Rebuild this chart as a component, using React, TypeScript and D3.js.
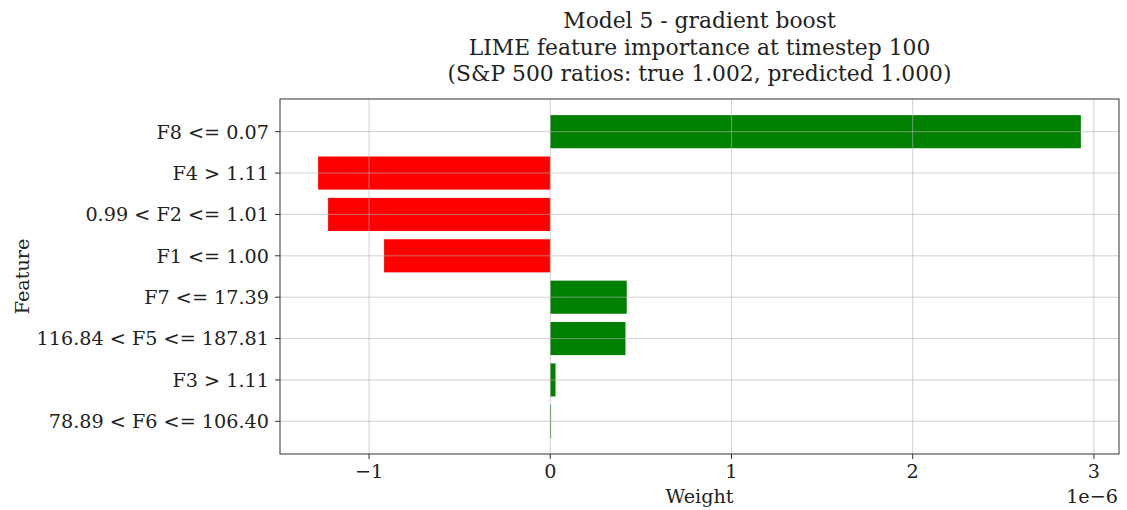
import React from "react";
import * as d3 from "d3";

const features = [
  "F8 <= 0.07",
  "F4 > 1.11",
  "0.99 < F2 <= 1.01",
  "F1 <= 1.00",
  "F7 <= 17.39",
  "116.84 < F5 <= 187.81",
  "F3 > 1.11",
  "78.89 < F6 <= 106.40",
];
const weights = [2.928, -1.281, -1.226, -0.917, 0.422, 0.415, 0.029, 0.002];
const xTicks = [-1, 0, 1, 2, 3];
const titleLines = [
  "Model 5 - gradient boost",
  "LIME feature importance at timestep 100",
  "(S&P 500 ratios: true 1.002, predicted 1.000)",
];

const W = 1127;
const H = 510;
const left = 280;
const right = 1119;
const top = 99;
const bottom = 454;
const font = "'DejaVu Serif', serif";
const textColor = "#222";
const tickFont = 19.2;

export default function App() {
  const minV = d3.min(weights)!;
  const maxV = d3.max(weights)!;
  const pad = (maxV - minV) * 0.05;
  const x = d3.scaleLinear().domain([minV - pad, maxV + pad]).range([left, right]);
  const n = features.length;
  const yPad = (n - 1 + 0.8) * 0.05;
  const y = d3
    .scaleLinear()
    .domain([-0.4 - yPad, n - 1 + 0.4 + yPad])
    .range([top, bottom]);
  const barH = Math.abs(y(0.8) - y(0));

  return (
    <svg width={W} height={H} style={{ position: "absolute", left: 0, top: 0, background: "#fff" }}>
      <rect x={0} y={0} width={W} height={H} fill="#fff" />
      {titleLines.map((t, i) => (
        <text
          key={i}
          x={(left + right) / 2}
          y={28 + i * 26.6}
          textAnchor="middle"
          fontFamily={font}
          fontSize={21.8}
          fill={textColor}
        >
          {t}
        </text>
      ))}
      {weights.map((w, i) => (
        <rect
          key={i}
          x={Math.min(x(0), x(w))}
          y={y(i) - barH / 2}
          width={Math.max(Math.abs(x(w) - x(0)), 0.8)}
          height={barH}
          fill={w > 0 ? "green" : "red"}
        />
      ))}
      {xTicks.map((t) => (
        <line key={"gx" + t} x1={x(t)} x2={x(t)} y1={top} y2={bottom} stroke="#b0b0b0" strokeOpacity={0.6} strokeWidth={1} />
      ))}
      {features.map((f, i) => (
        <line key={"gy" + i} x1={left} x2={right} y1={y(i)} y2={y(i)} stroke="#b0b0b0" strokeOpacity={0.6} strokeWidth={1} />
      ))}
      <rect x={left} y={top} width={right - left} height={bottom - top} fill="none" stroke="#333" strokeWidth={1} />
      {xTicks.map((t) => (
        <g key={"tx" + t}>
          <line x1={x(t)} x2={x(t)} y1={bottom} y2={bottom + 5} stroke="#333" />
          <text x={x(t)} y={bottom + 23.5} textAnchor="middle" fontFamily={font} fontSize={tickFont} fill={textColor}>
            {t < 0 ? "\u2212" + Math.abs(t) : String(t)}
          </text>
        </g>
      ))}
      {features.map((f, i) => (
        <g key={"ty" + i}>
          <line x1={left - 5} x2={left} y1={y(i)} y2={y(i)} stroke="#333" />
          <text x={left - 11} y={y(i)} dy="0.36em" textAnchor="end" fontFamily={font} fontSize={tickFont} fill={textColor}>
            {f}
          </text>
        </g>
      ))}
      <text x={(left + right) / 2} y={503} textAnchor="middle" fontFamily={font} fontSize={tickFont} fill={textColor}>
        Weight
      </text>
      <text x={right - 1} y={503} textAnchor="end" fontFamily={font} fontSize={tickFont} fill={textColor}>
        1e{"\u2212"}6
      </text>
      <text
        transform={`translate(28.5, ${(top + bottom) / 2}) rotate(-90)`}
        textAnchor="middle"
        fontFamily={font}
        fontSize={tickFont}
        fill={textColor}
      >
        Feature
      </text>
    </svg>
  );
}
